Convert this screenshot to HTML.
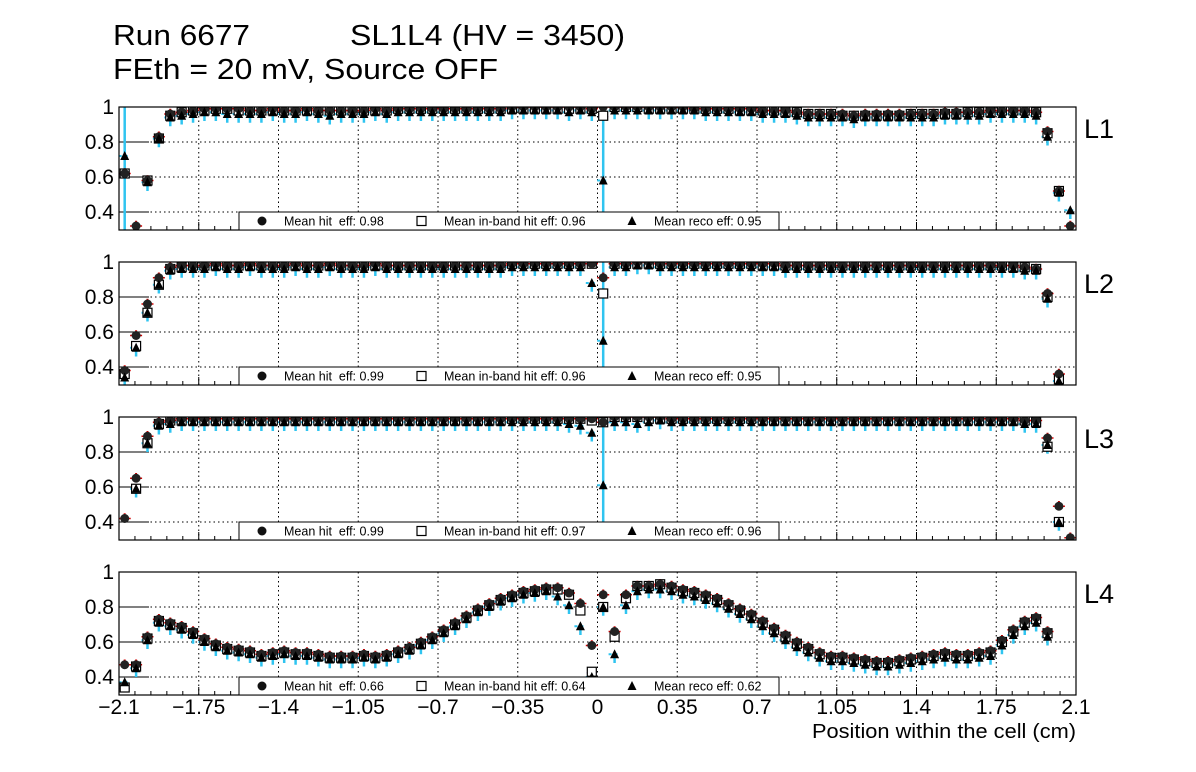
<!DOCTYPE html>
<html><head><meta charset="utf-8"><style>
html,body{margin:0;padding:0;background:#fff;width:1196px;height:772px;overflow:hidden}
svg{display:block;font-family:"Liberation Sans",Arial,sans-serif}
</style></head><body>
<svg id="chart" width="1196" height="772" viewBox="0 0 1196 772">
<rect x="0" y="0" width="1196" height="772" fill="#fff"/>
<text x="113" y="45" font-size="29" textLength="137" lengthAdjust="spacingAndGlyphs">Run 6677</text>
<text x="350" y="45" font-size="29" textLength="275" lengthAdjust="spacingAndGlyphs">SL1L4 (HV = 3450)</text>
<text x="113" y="79" font-size="29" textLength="385" lengthAdjust="spacingAndGlyphs">FEth = 20 mV, Source OFF</text>
<text x="812" y="738" font-size="20" textLength="264" lengthAdjust="spacingAndGlyphs">Position within the cell (cm)</text>
<g id="plots"></g>
</svg>
<script>
const layers = ["L1","L2","L3","L4"];
const meanHit = ["0.98","0.99","0.99","0.66"];
const meanBand = ["0.96","0.96","0.97","0.64"];
const meanReco = ["0.95","0.95","0.96","0.62"];
const xTicks = [-2.1,-1.75,-1.4,-1.05,-0.7,-0.35,0,0.35,0.7,1.05,1.4,1.75,2.1];
const xTickLabels = ["\u22122.1","\u22121.75","\u22121.4","\u22121.05","\u22120.7","\u22120.35","0","0.35","0.7","1.05","1.4","1.75","2.1"];
const yTicks = [0.4,0.6,0.8,1];
const yTickLabels = ["0.4","0.6","0.8","1"];

const hit1 = [0.62,0.32,0.58,0.83,0.96,0.97,0.98,0.99,0.99,0.99,
0.99,0.98,0.98,0.99,0.98,0.98,0.99,0.98,0.98,0.98,
0.98,0.98,0.99,0.98,0.99,0.99,0.99,0.99,0.99,0.99,
0.99,0.99,0.99,0.99,1.0,1.0,1.0,1.0,1.0,1.0,
1.0,0.99,1.0,1.0,1.0,1.0,1.0,1.0,1.0,1.0,
0.99,0.99,0.99,0.99,0.99,0.99,0.98,0.98,0.98,0.97,
0.96,0.96,0.96,0.96,0.95,0.96,0.96,0.96,0.96,0.96,
0.96,0.96,0.97,0.97,0.97,0.97,0.98,0.98,0.98,0.98,
0.97,0.86,0.52,0.32];
const band1 = [0.62,null,0.58,0.82,0.95,0.97,0.98,0.98,0.99,0.99,
0.98,0.98,0.98,0.98,0.98,0.98,0.98,0.98,0.98,0.98,
0.98,0.98,0.98,0.98,0.99,0.99,0.99,0.99,0.99,0.99,
0.99,0.99,0.99,0.99,0.99,0.99,0.99,0.99,0.99,0.99,
0.99,0.99,0.95,1.0,1.0,1.0,0.99,0.99,0.99,0.99,
0.99,0.99,0.99,0.99,0.98,0.98,0.98,0.98,0.97,0.97,
0.96,0.96,0.96,0.95,0.95,0.95,0.95,0.95,0.95,0.96,
0.96,0.96,0.96,0.96,0.97,0.97,0.97,0.98,0.98,0.98,
0.97,0.85,0.52,null];
const reco1 = [0.72,null,0.57,0.82,0.94,0.95,0.96,0.97,0.97,0.96,
0.96,0.96,0.96,0.97,0.96,0.96,0.97,0.96,0.95,0.96,
0.96,0.96,0.97,0.96,0.97,0.97,0.97,0.97,0.97,0.97,
0.97,0.97,0.97,0.97,0.98,0.98,0.98,0.98,0.98,0.97,
0.98,0.97,0.58,0.98,0.98,0.98,0.98,0.98,0.98,0.98,
0.98,0.97,0.97,0.97,0.97,0.97,0.96,0.96,0.96,0.95,
0.94,0.94,0.94,0.94,0.93,0.94,0.94,0.94,0.94,0.94,
0.94,0.94,0.95,0.95,0.95,0.95,0.96,0.96,0.96,0.96,
0.95,0.83,0.51,0.41];

const hit2 = [0.38,0.58,0.76,0.91,0.97,0.98,0.98,0.98,0.99,0.98,
0.98,0.99,0.98,0.98,0.98,0.99,0.98,0.98,0.99,0.98,
0.98,0.98,0.99,0.98,0.98,0.98,0.98,0.98,0.98,0.98,
0.98,0.98,0.98,0.98,0.99,0.99,0.99,0.99,0.99,0.99,
0.99,0.99,0.91,0.99,0.99,1.0,1.0,0.99,0.99,0.99,
0.99,0.99,0.99,0.99,0.99,0.99,0.99,0.99,0.98,0.98,
0.98,0.98,0.98,0.98,0.98,0.98,0.98,0.98,0.98,0.98,
0.98,0.98,0.98,0.98,0.98,0.98,0.98,0.98,0.98,0.97,
0.96,0.82,0.36,null];
const band2 = [0.36,0.52,0.71,0.87,0.96,0.97,0.98,0.98,0.98,0.98,
0.98,0.98,0.98,0.98,0.98,0.98,0.98,0.98,0.98,0.98,
0.98,0.98,0.98,0.98,0.98,0.98,0.98,0.98,0.98,0.98,
0.98,0.98,0.98,0.98,0.99,0.99,0.99,0.99,0.99,0.99,
0.99,0.99,0.82,0.99,0.99,0.99,0.99,0.99,0.99,0.99,
0.99,0.99,0.99,0.99,0.99,0.99,0.98,0.98,0.98,0.98,
0.98,0.98,0.98,0.98,0.98,0.98,0.98,0.98,0.98,0.98,
0.98,0.98,0.98,0.98,0.98,0.98,0.98,0.98,0.97,0.97,
0.96,0.80,0.33,null];
const reco2 = [0.34,0.51,0.71,0.87,0.95,0.96,0.96,0.96,0.97,0.96,
0.96,0.97,0.96,0.96,0.96,0.97,0.96,0.96,0.97,0.96,
0.96,0.96,0.97,0.96,0.96,0.96,0.96,0.96,0.96,0.96,
0.96,0.96,0.96,0.96,0.97,0.97,0.97,0.97,0.97,0.97,
0.97,0.88,0.55,0.97,0.97,0.98,0.98,0.97,0.97,0.97,
0.97,0.97,0.97,0.97,0.97,0.97,0.97,0.97,0.96,0.96,
0.96,0.96,0.96,0.96,0.96,0.96,0.96,0.96,0.96,0.96,
0.96,0.96,0.96,0.96,0.96,0.96,0.96,0.96,0.96,0.95,
0.95,0.79,0.32,null];

const hit3 = [0.42,0.65,0.89,0.97,0.98,0.99,0.99,0.99,0.99,0.99,
0.99,0.99,0.99,0.99,0.99,0.99,0.99,0.99,0.99,0.99,
0.99,0.99,0.99,0.99,0.99,0.99,0.99,0.99,0.99,0.99,
0.99,0.99,0.99,0.99,0.99,0.99,0.99,0.99,0.99,0.99,
0.99,0.99,0.97,1.0,1.0,1.0,1.0,1.0,0.99,0.99,
0.99,0.99,0.99,0.99,0.99,0.99,0.99,0.99,0.99,0.99,
0.99,0.99,0.99,0.99,0.99,0.99,0.99,0.99,0.99,0.99,
0.99,0.99,0.99,0.99,0.99,0.99,0.99,0.99,0.99,0.98,
0.98,0.88,0.49,0.31];
const band3 = [null,0.59,0.85,0.96,0.98,0.98,0.98,0.98,0.98,0.98,
0.98,0.98,0.98,0.98,0.98,0.98,0.98,0.98,0.98,0.98,
0.98,0.98,0.98,0.98,0.98,0.98,0.98,0.98,0.98,0.98,
0.98,0.98,0.98,0.98,0.99,0.99,0.99,0.99,0.99,0.99,
0.99,0.98,0.97,1.0,1.0,1.0,0.99,0.99,0.99,0.99,
0.99,0.99,0.99,0.99,0.99,0.99,0.98,0.98,0.98,0.98,
0.98,0.98,0.98,0.98,0.98,0.98,0.98,0.98,0.98,0.98,
0.98,0.98,0.98,0.98,0.98,0.98,0.98,0.98,0.98,0.98,
0.97,0.83,0.40,null];
const reco3 = [null,0.59,0.85,0.95,0.96,0.97,0.97,0.97,0.97,0.97,
0.97,0.97,0.97,0.97,0.97,0.97,0.97,0.97,0.97,0.97,
0.97,0.97,0.97,0.97,0.97,0.97,0.97,0.97,0.97,0.97,
0.97,0.97,0.97,0.97,0.97,0.97,0.97,0.97,0.97,0.96,
0.95,0.91,0.61,0.97,0.97,0.96,0.97,0.98,0.97,0.97,
0.97,0.97,0.97,0.97,0.97,0.97,0.97,0.97,0.97,0.97,
0.97,0.97,0.97,0.97,0.97,0.97,0.97,0.97,0.97,0.97,
0.97,0.97,0.97,0.97,0.97,0.97,0.97,0.97,0.97,0.96,
0.96,0.84,0.40,null];

const hit4 = [0.47,0.47,0.63,0.73,0.71,0.69,0.66,0.62,0.59,0.57,
0.56,0.55,0.53,0.54,0.55,0.54,0.54,0.53,0.52,0.52,
0.52,0.53,0.52,0.53,0.55,0.57,0.60,0.63,0.67,0.71,
0.75,0.79,0.82,0.85,0.87,0.89,0.90,0.91,0.91,0.88,
0.82,0.58,0.87,0.66,0.87,0.92,0.92,0.93,0.92,0.90,
0.89,0.87,0.85,0.82,0.79,0.76,0.72,0.68,0.64,0.60,
0.57,0.54,0.52,0.52,0.51,0.50,0.49,0.49,0.50,0.51,
0.52,0.53,0.54,0.53,0.53,0.54,0.55,0.61,0.67,0.72,
0.74,0.66,null,null];
const band4 = [0.34,0.46,0.62,0.72,0.70,0.68,0.65,0.61,0.58,0.56,
0.55,0.54,0.52,0.53,0.54,0.53,0.53,0.52,0.51,0.51,
0.51,0.52,0.51,0.52,0.54,0.56,0.59,0.62,0.66,0.70,
0.74,0.78,0.81,0.84,0.86,0.88,0.89,0.90,0.90,0.87,
0.78,0.43,0.80,0.63,0.85,0.92,0.92,0.93,0.91,0.89,
0.88,0.86,0.84,0.81,0.78,0.75,0.71,0.67,0.63,0.59,
0.56,0.53,0.51,0.51,0.50,0.49,0.48,0.48,0.49,0.50,
0.51,0.52,0.53,0.52,0.52,0.53,0.54,0.60,0.66,0.71,
0.73,0.65,null,null];
const reco4 = [0.37,0.45,0.61,0.71,0.69,0.67,0.64,0.60,0.57,0.55,
0.54,0.53,0.51,0.52,0.53,0.52,0.52,0.51,0.50,0.50,
0.50,0.51,0.50,0.51,0.53,0.55,0.58,0.61,0.65,0.69,
0.73,0.77,0.80,0.83,0.85,0.87,0.88,0.89,0.86,0.81,
0.69,0.40,0.80,0.53,0.81,0.89,0.90,0.90,0.89,0.87,
0.86,0.84,0.82,0.79,0.76,0.73,0.69,0.65,0.61,0.57,
0.54,0.51,0.49,0.49,0.48,0.47,0.46,0.46,0.47,0.48,
0.49,0.50,0.51,0.50,0.50,0.51,0.52,0.58,0.64,0.69,
0.71,0.63,null,null];

const hitData = [hit1,hit2,hit3,hit4];
const bandData = [band1,band2,band3,band4];
const recoData = [reco1,reco2,reco3,reco4];

const NS = "http://www.w3.org/2000/svg";
const X0 = 119, X1 = 1076, XMIN = -2.1, XMAX = 2.1, BIN = 0.05;
const tops = [107,262,417,572];
const PH = 123, YSCALE = 175;
function xs(v){ return X0 + (v - XMIN) / (XMAX - XMIN) * (X1 - X0); }
function ysF(top){ return v => top + (1 - v) * YSCALE; }
function mk(tag, attrs, parent){
  const e = document.createElementNS(NS, tag);
  for (const k in attrs) e.setAttribute(k, attrs[k]);
  parent.appendChild(e);
  return e;
}
const root = document.getElementById("plots");

layers.forEach((name, p) => {
  const top = tops[p], bot = top + PH, ys = ysF(top);
  const g = mk("g", {}, root);
  
  
  const clipId = "clip" + p;
  const cp = mk("clipPath", {id: clipId}, g);
  mk("rect", {x: X0, y: top, width: X1 - X0, height: PH}, cp);
  xTicks.forEach(t => {
    if (t === XMIN || t === XMAX) return;
    const l = mk("line", {x1: xs(t), x2: xs(t), y1: top, y2: bot, stroke: "#000", "stroke-width": 1, "stroke-dasharray": "1.5,3"}, g);
    
    
  });
  yTicks.forEach(t => {
    if (t >= 1) return;
    const l = mk("line", {x1: X0, x2: X1, y1: ys(t), y2: ys(t), stroke: "#000", "stroke-width": 1, "stroke-dasharray": "1.5,3"}, g);
    
    
  });
  yTicks.forEach((t, k) => {
    const tk = mk("line", {x1: X0, x2: X0 + 30, y1: ys(t), y2: ys(t), stroke: "#000", "stroke-width": 1}, g);
    
    
    const lb = mk("text", {x: X0 - 5, y: ys(t) + 7, "font-size": 21, "text-anchor": "end"}, g);
    lb.textContent = yTickLabels[k];
    
    
  });
  for (let v = XMIN; v <= XMAX + 1e-6; v += 0.07) {
    const major = Math.abs(Math.round(v / 0.35) * 0.35 - v) < 1e-6;
    const tk = mk("line", {x1: xs(v), x2: xs(v), y1: bot, y2: bot - (major ? 8 : 4), stroke: "#000", "stroke-width": 1}, g);
    
    
  }
  const dg = mk("g", {"clip-path": "url(#" + clipId + ")"}, g);
  const hit = hitData[p], band = bandData[p], reco = recoData[p];
  const n = hit.length;
  for (let i = 0; i < n; i++) {
    const cx = xs(XMIN + BIN * (i + 0.5));
    if (reco[i] !== null) {
      const big = (hit[i] !== null && hit[i] - reco[i] > 0.2) || (i === 0 && p === 0);
      const e = big ? 0.45 : 0.05;
      const eb = mk("line", {x1: cx, x2: cx, y1: ys(reco[i] + (big ? 0.45 : 0.015)), y2: ys(reco[i] - e), stroke: "#2fc4f0", "stroke-width": 2.5}, dg);
      
      
      const eh = mk("line", {x1: cx - 6, x2: cx + 6, y1: ys(reco[i]), y2: ys(reco[i]), stroke: "#2fc4f0", "stroke-width": 2, "stroke-dasharray": "3,3"}, dg);
      
      
    }
    if (hit[i] !== null) {
      const eb = mk("line", {x1: cx, x2: cx, y1: ys(hit[i] + 0.03), y2: ys(hit[i]), stroke: "#d00000", "stroke-width": 2}, dg);
      
      
      const eh = mk("line", {x1: cx - 6, x2: cx + 6, y1: ys(hit[i]), y2: ys(hit[i]), stroke: "#d00000", "stroke-width": 1.5}, dg);
      
      
    }
    if (band[i] !== null) {
      const eb = mk("line", {x1: cx - 5, x2: cx + 5, y1: ys(band[i]) + 1, y2: ys(band[i]) + 1, stroke: "#6a0dd8", "stroke-width": 1.5}, dg);
      
      
    }
  }
  for (let i = 0; i < n; i++) {
    const cx = xs(XMIN + BIN * (i + 0.5));
    if (band[i] !== null) {
      const s = mk("rect", {x: cx - 4.5, y: ys(band[i]) - 4.5, width: 9, height: 9, fill: "#fff", stroke: "#000", "stroke-width": 1.2}, dg);
      
      
    }
    if (hit[i] !== null) {
      const c = mk("circle", {cx: cx, cy: ys(hit[i]), r: 4.5, fill: "#222"}, dg);
      
      
    }
    if (reco[i] !== null) {
      const y = ys(reco[i]);
      const t = mk("polygon", {points: (cx) + "," + (y - 5) + " " + (cx - 4.5) + "," + (y + 4) + " " + (cx + 4.5) + "," + (y + 4), fill: "#000"}, dg);
      
      
    }
  }
  const fr = mk("rect", {x: X0, y: top, width: X1 - X0, height: PH, fill: "none", stroke: "#000", "stroke-width": 1.2}, g);
  
  
  const lg = mk("g", {}, g);
  
  
  mk("rect", {x: 239, y: bot - 18, width: 540, height: 18, fill: "#fff", stroke: "#000", "stroke-width": 1}, lg);
  const ly = bot - 9;
  const l1 = mk("circle", {cx: 262, cy: ly, r: 4.5, fill: "#111"}, lg);
  
  
  const t1 = mk("text", {x: 284, y: ly + 4.5, "font-size": 12.5}, lg);
  t1.textContent = "Mean hit  eff: " + meanHit[p];
  
  
  t1.style.whiteSpace = "pre";
  const l2 = mk("rect", {x: 417, y: ly - 4.5, width: 9, height: 9, fill: "#fff", stroke: "#000", "stroke-width": 1.2}, lg);
  
  
  const t2 = mk("text", {x: 444, y: ly + 4.5, "font-size": 12.5}, lg);
  t2.textContent = "Mean in-band hit eff: " + meanBand[p];
  
  
  const l3 = mk("polygon", {points: "632," + (ly - 5) + " 627.5," + (ly + 4) + " 636.5," + (ly + 4), fill: "#000"}, lg);
  
  
  const t3 = mk("text", {x: 654, y: ly + 4.5, "font-size": 12.5}, lg);
  t3.textContent = "Mean reco eff: " + meanReco[p];
  
  
  const pl = mk("text", {x: 1084, y: top + 31, "font-size": 27}, g);
  pl.textContent = name;
  
  
});

xTicks.forEach((t, k) => {
  const lb = document.createElementNS(NS, "text");
  lb.setAttribute("x", xs(t));
  lb.setAttribute("y", 714);
  lb.setAttribute("font-size", 21);
  lb.setAttribute("text-anchor", "middle");
  lb.textContent = xTickLabels[k];
  
  
  root.appendChild(lb);
});
</script>
</body></html>
